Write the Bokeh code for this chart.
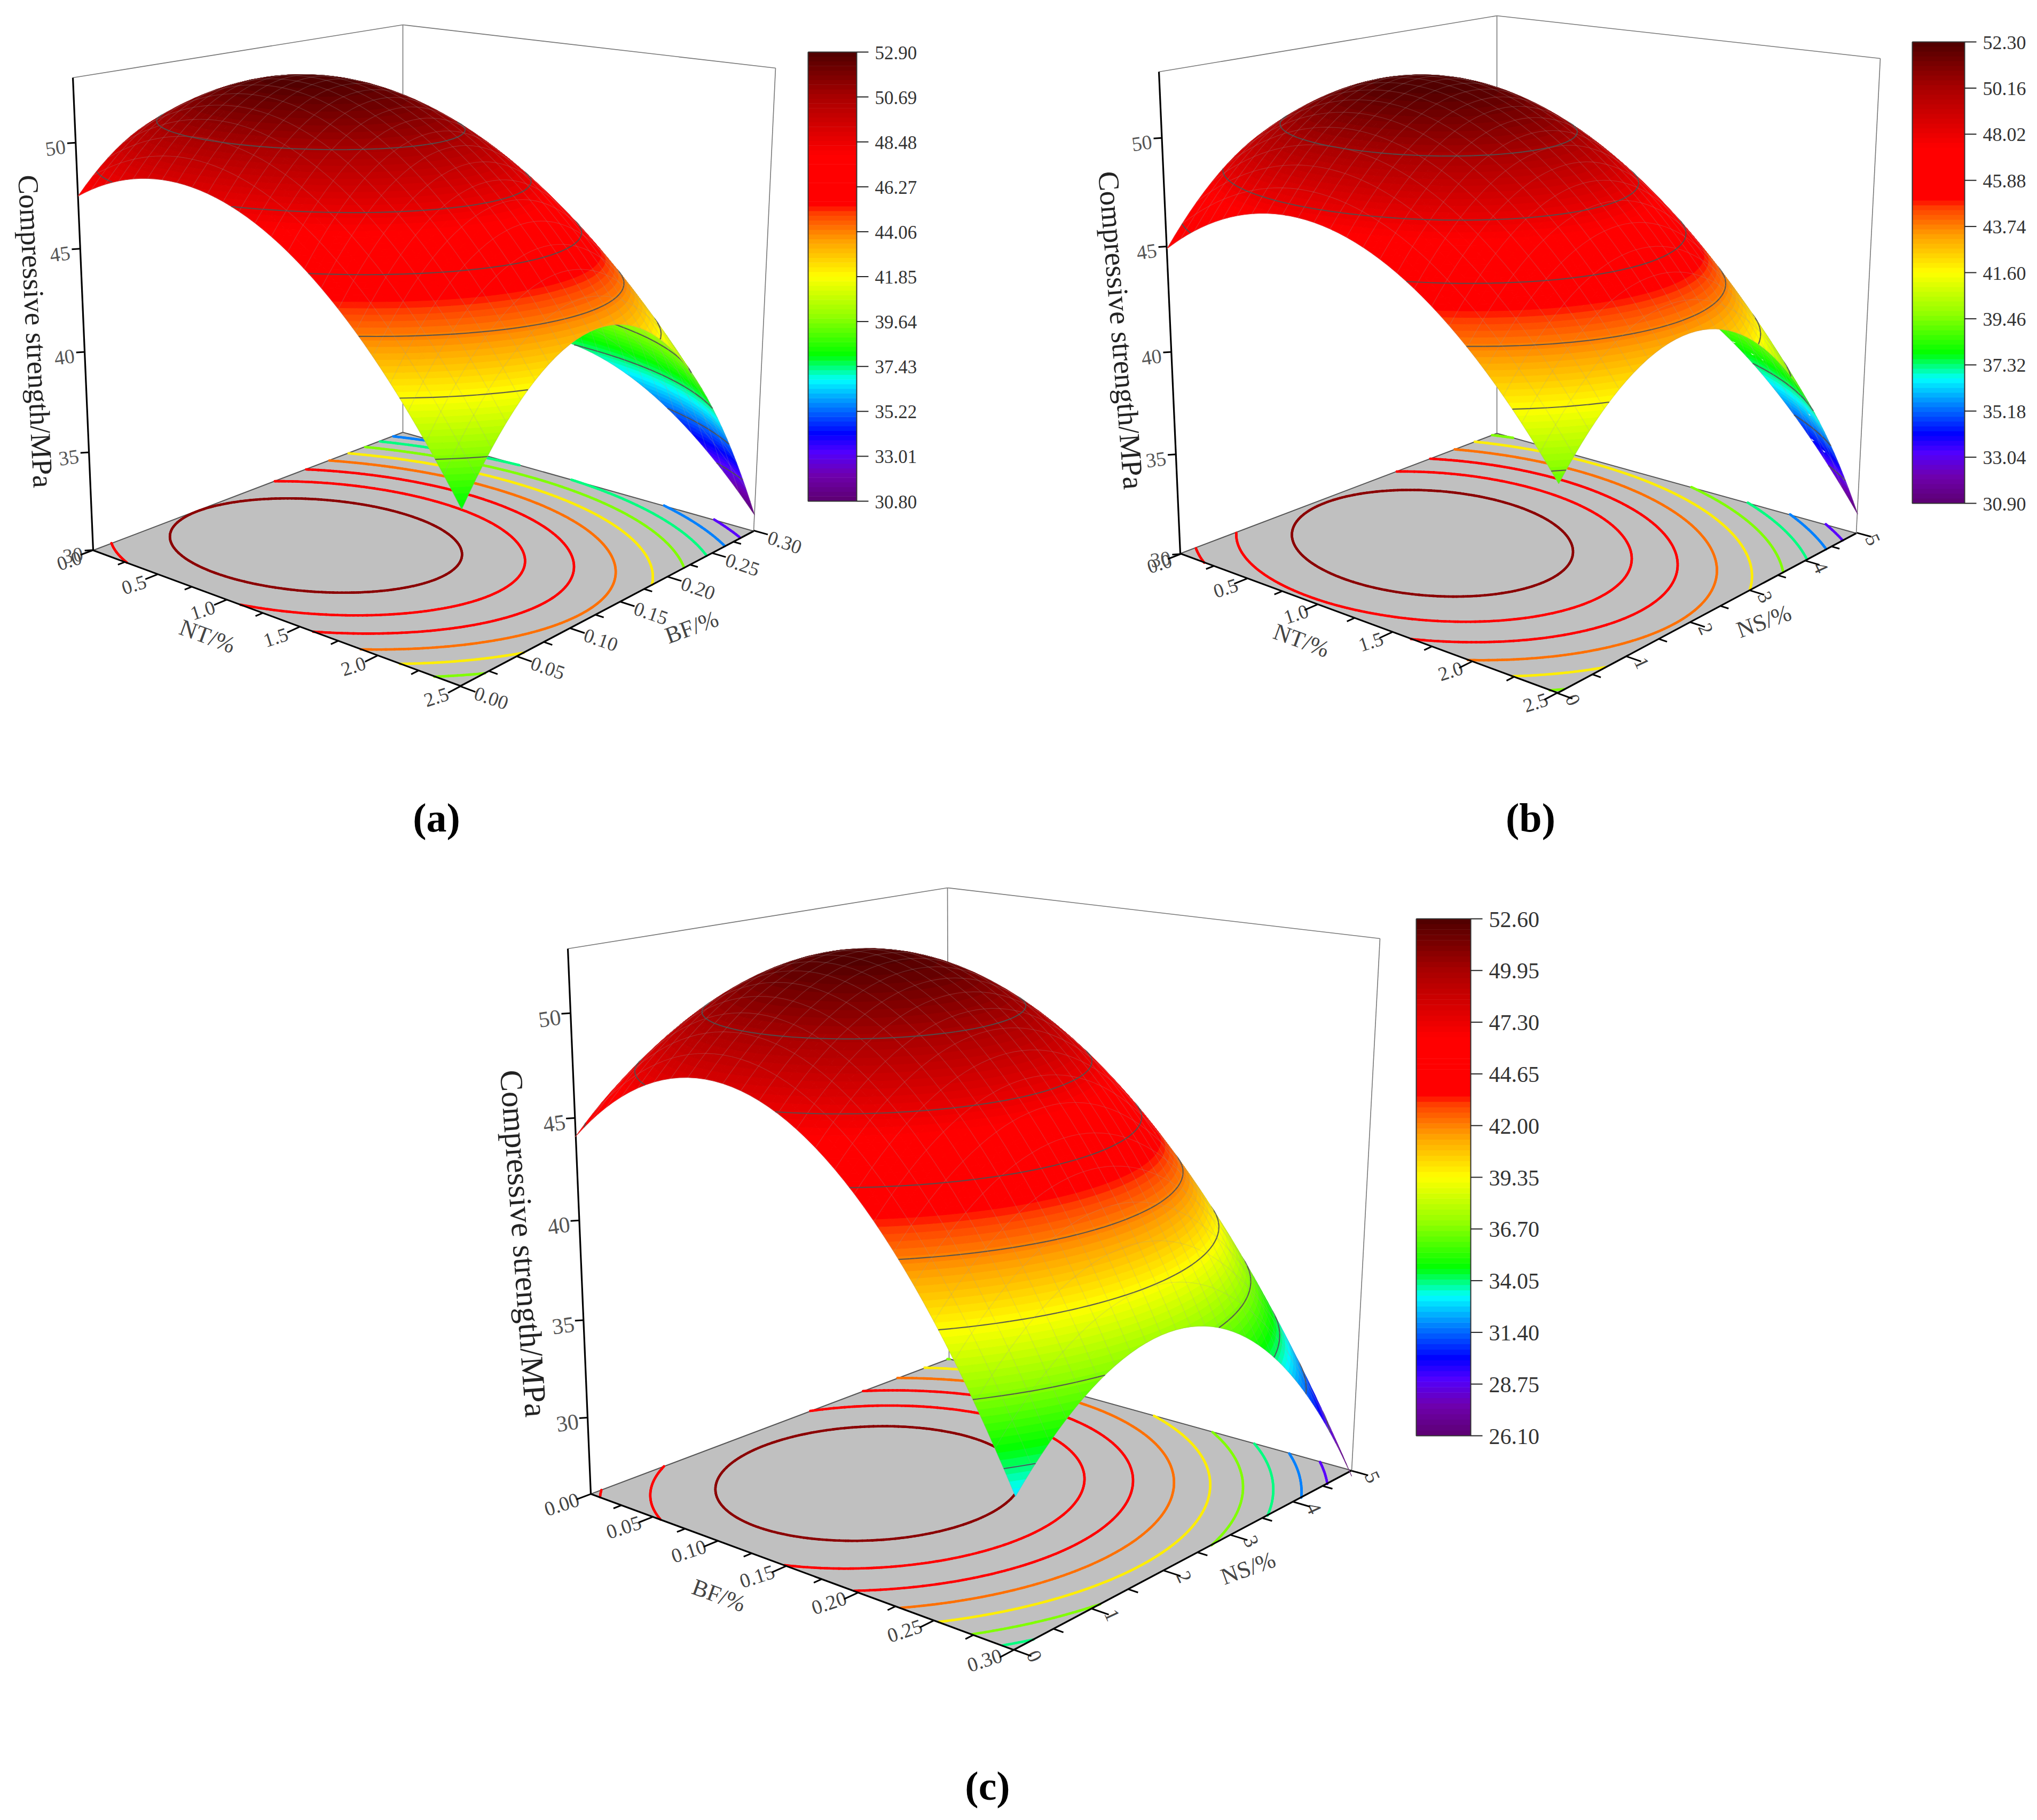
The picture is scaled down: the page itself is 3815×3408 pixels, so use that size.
import numpy as np
from bokeh.plotting import figure
from bokeh.models import Range1d, ColumnDataSource
from bokeh.core.properties import value
from bokeh.embed import file_html
from bokeh.resources import INLINE

# ---------- values ----------
# compressive strength on a 5x5 lattice of the floor (row: first factor, column: second factor)
z_table_a = [[47.50, 50.56, 49.25, 43.56, 33.50],
             [49.06, 52.56, 51.68, 46.43, 36.81],
             [47.97, 51.90, 51.47, 46.66, 37.47],
             [44.22, 48.59, 48.60, 44.22, 35.47],
             [37.83, 42.64, 43.08, 39.14, 30.83]]
z_table_b = [[44.90, 49.20, 49.62, 46.17, 38.84],
             [47.37, 51.55, 51.84, 48.27, 40.81],
             [47.21, 51.26, 51.43, 47.73, 40.15],
             [44.43, 48.36, 48.40, 44.58, 36.87],
             [39.02, 42.82, 42.74, 38.79, 30.96]]
z_table_c = [[44.04, 47.99, 48.07, 44.27, 36.60],
             [47.84, 51.79, 51.87, 48.07, 40.40],
             [47.26, 51.21, 51.29, 47.49, 39.82],
             [42.31, 46.26, 46.34, 42.54, 34.87],
             [32.98, 36.93, 37.01, 33.21, 25.90]]

cbar_a = ["30.80", "33.01", "35.22", "37.43", "39.64", "41.85", "44.06", "46.27", "48.48", "50.69", "52.90"]
cbar_b = ["30.90", "33.04", "35.18", "37.32", "39.46", "41.60", "43.74", "45.88", "48.02", "50.16", "52.30"]
cbar_c = ["26.10", "28.75", "31.40", "34.05", "36.70", "39.35", "42.00", "44.65", "47.30", "49.95", "52.60"]

nt_ticks = ["0.0", "0.5", "1.0", "1.5", "2.0", "2.5"]
bf_ticks = ["0.00", "0.05", "0.10", "0.15", "0.20", "0.25", "0.30"]
ns_ticks = ["0", "1", "2", "3", "4", "5"]
z_ticks = [30, 35, 40, 45, 50]
contour_colors = ["#5a00ff", "#0080ff", "#00ff80", "#80ff00", "#ffee00", "#ff7000", "#ff0000", "#ff0000", "#8b0000"]

# colour scale of the legend bars: position along the bar, colour
cmap_pos = [0.0, 0.06, 0.11, 0.15, 0.22, 0.27, 0.29, 0.325, 0.41, 0.50, 0.58, 0.64, 0.66, 0.77, 0.90, 1.0]
cmap_col = ["#5c0070", "#6f00b0", "#5000ff", "#0000ff", "#0090ff", "#00ffff", "#00ffa0", "#00ff00", "#90ff00",
            "#ffff00", "#ffa000", "#ff4000", "#ff0000", "#ff0000", "#a80000", "#4d0000"]
N_BANDS = 96
SERIF = "Liberation Serif"

# frame calibration of each panel (page pixels) and its texts
panels = [
    dict(table=z_table_a, zr=(30, 53), cbar=cbar_a, ut=nt_ticks, vt=bf_ticks, ul="NT/%", vl="BF/%",
         L=(174, 1030), F=(862, 1284), R=(1411, 994), B=(754, 809), LT=(136, 145), BT=(754, 46), RT=(1452, 127),
         bar=(1513, 1604, 97, 938), bar_fs=35, uo=(-45, 20), vo=(58, 22), vang=-19, uang=18, tick_fs=37,
         ulp=(388, 1191), vlp=(1295, 1174), title=(66, 620, -87.2, 54), lab="(a)", labp=(817, 1530), zfs=38),
    dict(table=z_table_b, zr=(30, 53), cbar=cbar_b, ut=nt_ticks, vt=ns_ticks, ul="NT/%", vl="NS/%",
         L=(2210, 1036), F=(2917, 1297), R=(3476, 998), B=(2803, 811), LT=(2170, 134), BT=(2803, 29), RT=(3521, 109),
         bar=(3581, 3679, 78, 942), bar_fs=36, uo=(-40, 18), vo=(30, 13), vang=-65, uang=18, tick_fs=37,
         ulp=(2437, 1199), vlp=(3303, 1163), title=(2099, 618, -85.4, 55), lab="(b)", labp=(2866, 1530), zfs=38),
    dict(table=z_table_c, zr=(26, 53), cbar=cbar_c, ut=bf_ticks, vt=ns_ticks, ul="BF/%", vl="NS/%",
         L=(1106, 2797), F=(1898, 3089), R=(2531, 2753), B=(1777, 2544), LT=(1063, 1776), BT=(1774, 1662), RT=(2584, 1757),
         bar=(2652, 2754, 1720, 2688), bar_fs=42, uo=(-55, 20), vo=(38, 12), vang=-65, uang=18, tick_fs=38,
         ulp=(1346, 2987), vlp=(2337, 2936), title=(980, 2328, -85.8, 60), lab="(c)", labp=(1849, 3343), zfs=42),
]


def hex2rgb(h):
    return np.array([int(h[i:i + 2], 16) for i in (1, 3, 5)], float)


def band_palette():
    out = []
    rgb = np.array([hex2rgb(c) for c in cmap_col])
    for i in range(N_BANDS):
        t = (i + 0.5) / N_BANDS
        c = [np.interp(t, cmap_pos, rgb[:, k]) for k in range(3)]
        out.append("#%02x%02x%02x" % tuple(int(round(x)) for x in c))
    return out


PALETTE = band_palette()


def fit_projection(pan):
    pts = [((0, 0, 0), pan["L"]), ((1, 0, 0), pan["F"]), ((1, 1, 0), pan["R"]), ((0, 1, 0), pan["B"]),
           ((0, 0, 1), pan["LT"]), ((0, 1, 1), pan["BT"]), ((1, 1, 1), pan["RT"])]
    A = []
    for (X, Y, Z), (x, y) in pts:
        A.append([X, Y, Z, 1, 0, 0, 0, 0, -x * X, -x * Y, -x * Z, -x])
        A.append([0, 0, 0, 0, X, Y, Z, 1, -y * X, -y * Y, -y * Z, -y])
    _, _, vt = np.linalg.svd(np.array(A, float))
    P = vt[-1].reshape(3, 4)
    _, _, v2 = np.linalg.svd(P)
    C = v2[-1]
    C = C[:3] / C[3]
    return P, C


def smooth_surface(table):
    t = np.asarray(table, float)
    n = t.shape[0]
    gu, gv = np.meshgrid(np.linspace(0, 1, n), np.linspace(0, 1, t.shape[1]), indexing="ij")

    def basis(u, v):
        return np.stack([np.ones_like(u), u, v, u * u, v * v, u * v], -1)
    coef, *_ = np.linalg.lstsq(basis(gu, gv).reshape(-1, 6), t.ravel(), rcond=None)
    return lambda u, v: basis(u, v) @ coef


def clip(poly, level, keep_above):
    out = []
    n = len(poly)
    for i in range(n):
        a, b = poly[i], poly[(i + 1) % n]
        ina = a[2] >= level if keep_above else a[2] <= level
        inb = b[2] >= level if keep_above else b[2] <= level
        if ina:
            out.append(a)
        if ina != inb:
            s = (level - a[2]) / (b[2] - a[2])
            out.append((a[0] + s * (b[0] - a[0]), a[1] + s * (b[1] - a[1]), level))
    return out


def level_segments(U, V, Z, level):
    """cells of a lattice crossed by a level: (cell i, cell j, point, point) in (u, v)."""
    zmin = np.minimum.reduce([Z[:-1, :-1], Z[1:, :-1], Z[:-1, 1:], Z[1:, 1:]])
    zmax = np.maximum.reduce([Z[:-1, :-1], Z[1:, :-1], Z[:-1, 1:], Z[1:, 1:]])
    res = []
    for i, j in zip(*np.nonzero((zmin < level) & (zmax >= level))):
        c = [(i, j), (i + 1, j), (i + 1, j + 1), (i, j + 1)]
        pts = []
        for k in range(4):
            a, b = c[k], c[(k + 1) % 4]
            za, zb = Z[a], Z[b]
            if (za < level) != (zb < level):
                s = (level - za) / (zb - za)
                pts.append((U[a] + s * (U[b] - U[a]), V[a] + s * (V[b] - V[a])))
        if len(pts) >= 2:
            res.append((i, j, pts[0], pts[1]))
    return res


p = figure(width=3799, height=3392, x_range=Range1d(0, 3799), y_range=Range1d(3392, 0),
           output_backend="svg", toolbar_location=None, x_axis_location=None, y_axis_location=None,
           background_fill_color="white", border_fill_color="white", min_border=0, outline_line_color=None)
p.grid.visible = False


def add_text(x, y, text, size, angle=0.0, color="#444444", style="normal", align="center"):
    p.text(x=[x], y=[y], text=[text], text_font=value(SERIF), text_font_size=f"{size}px", angle=[np.deg2rad(angle)],
           text_color=color, text_font_style=style, text_align=align, text_baseline="middle")


for pan in panels:
    P, C = fit_projection(pan)
    z0, z1 = pan["zr"]

    def proj(u, v, w):
        q = P @ np.array([u, v, w, 1.0])
        return q[0] / q[2], q[1] / q[2]

    def proj_z(u, v, z):
        return proj(u, v, (z - z0) / (z1 - z0))

    def dist(u, v, z):
        return float(np.linalg.norm(np.array([u, v, (z - z0) / (z1 - z0)]) - C))

    # frame behind the surface
    thin_x, thin_y = [], []
    for a, b in [("L", "B"), ("B", "R"), ("B", "BT"), ("LT", "BT"), ("BT", "RT"), ("R", "RT")]:
        thin_x.append([pan[a][0], pan[b][0]])
        thin_y.append([pan[a][1], pan[b][1]])

    # floor
    p.patch([pan[k][0] for k in "LFRB"], [pan[k][1] for k in "LFRB"], fill_color="#c0c0c0", line_color=None)
    p.multi_line(thin_x[2:], thin_y[2:], line_color="#777777", line_width=1.6)
    p.multi_line(thin_x[:2], thin_y[:2], line_color="#555555", line_width=2)

    surf = smooth_surface(pan["table"])
    levels = [float(t) for t in pan["cbar"][1:-1]]
    lo, hi = float(pan["cbar"][0]), float(pan["cbar"][-1])

    # contour map on the floor
    fu, fv = np.meshgrid(np.linspace(0, 1, 161), np.linspace(0, 1, 161), indexing="ij")
    fz = surf(fu, fv)
    sx0, sy0, sx1, sy1, scol = [], [], [], [], []
    for lev, col in zip(levels, contour_colors):
        for _, _, a, b in level_segments(fu, fv, fz, lev):
            xa, ya = proj(a[0], a[1], 0)
            xb, yb = proj(b[0], b[1], 0)
            sx0.append(xa); sy0.append(ya); sx1.append(xb); sy1.append(yb); scol.append(col)
    p.segment(sx0, sy0, sx1, sy1, line_color=scol, line_width=4.6, line_cap="round")

    # axes
    axx, axy = [], []
    for a, b in [("L", "F"), ("F", "R"), ("L", "LT")]:
        axx.append([pan[a][0], pan[b][0]])
        axy.append([pan[a][1], pan[b][1]])
    p.multi_line(axx, axy, line_color="black", line_width=3.2)

    tx, ty = [], []
    nu = len(pan["ut"]) - 1
    for k in range(2 * nu + 1):
        t = k / (2 * nu)
        ln = 0.035 if k % 2 == 0 else 0.02
        a, b = proj(t, 0, 0), proj(t, -ln, 0)
        tx.append([a[0], b[0]]); ty.append([a[1], b[1]])
        if k % 2 == 0:
            add_text(a[0] + pan["uo"][0], a[1] + pan["uo"][1], pan["ut"][k // 2], pan["tick_fs"], pan["uang"])
    nv = len(pan["vt"]) - 1
    for k in range(2 * nv + 1):
        t = k / (2 * nv)
        ln = 0.035 if k % 2 == 0 else 0.02
        a, b = proj(1, t, 0), proj(1 + ln, t, 0)
        tx.append([a[0], b[0]]); ty.append([a[1], b[1]])
        if k % 2 == 0:
            add_text(a[0] + pan["vo"][0], a[1] + pan["vo"][1], pan["vt"][k // 2], pan["tick_fs"], pan["vang"])
    for zt in z_ticks:
        a = proj_z(0, 0, zt)
        tx.append([a[0], a[0] - 16]); ty.append([a[1], a[1] + 1])
        add_text(a[0] - 38, a[1] + 10, str(zt), pan["zfs"], 8, color="#555555")
    p.multi_line(tx, ty, line_color="black", line_width=3)

    add_text(pan["ulp"][0], pan["ulp"][1], pan["ul"], 44, -20)
    add_text(pan["vlp"][0], pan["vlp"][1], pan["vl"], 44, 20)
    tt = pan["title"]
    add_text(tt[0], tt[1], "Compressive strength/MPa", tt[3], tt[2], color="#222222")
    add_text(pan["labp"][0], pan["labp"][1], pan["lab"], 76, 0, color="black", style="bold")

    # the surface, far cells first
    n = 48
    U, V = np.meshgrid(np.linspace(0, 1, n + 1), np.linspace(0, 1, n + 1), indexing="ij")
    Z = surf(U, V)
    XY = np.zeros(U.shape + (2,))
    for i in range(n + 1):
        for j in range(n + 1):
            XY[i, j] = proj_z(U[i, j], V[i, j], Z[i, j])

    items = []
    step = (hi - lo) / N_BANDS
    for i in range(n):
        for j in range(n):
            quad = [(U[a, b], V[a, b], Z[a, b]) for a, b in [(i, j), (i + 1, j), (i + 1, j + 1), (i, j + 1)]]
            zs = [q[2] for q in quad]
            key = dist(np.mean([q[0] for q in quad]), np.mean([q[1] for q in quad]), np.mean(zs))
            b0 = int(np.clip(np.floor((min(zs) - lo) / step), 0, N_BANDS - 1))
            b1 = int(np.clip(np.floor((max(zs) - lo) / step), 0, N_BANDS - 1))
            for bd in range(b0, b1 + 1):
                poly = quad
                if bd > b0:
                    poly = clip(poly, lo + bd * step, True)
                if bd < b1 and poly:
                    poly = clip(poly, lo + (bd + 1) * step, False)
                if len(poly) < 3:
                    continue
                pts = [proj_z(*q) for q in poly]
                items.append((key, [q[0] for q in pts], [q[1] for q in pts], PALETTE[bd], PALETTE[bd], 1.0, 1.0, 1.0))

    # faint mesh
    every = 2
    for i in range(0, n + 1, every):
        for j in range(n):
            key = dist(U[i, j], (V[i, j] + V[i, j + 1]) / 2, (Z[i, j] + Z[i, j + 1]) / 2) - 0.035
            items.append((key, [XY[i, j, 0], XY[i, j + 1, 0]], [XY[i, j, 1], XY[i, j + 1, 1]],
                          "#808080", "#a0a0a0", 1.4, 0.0, 0.24))
    for j in range(0, n + 1, every):
        for i in range(n):
            key = dist((U[i, j] + U[i + 1, j]) / 2, V[i, j], (Z[i, j] + Z[i + 1, j]) / 2) - 0.035
            items.append((key, [XY[i, j, 0], XY[i + 1, j, 0]], [XY[i, j, 1], XY[i + 1, j, 1]],
                          "#808080", "#a0a0a0", 1.4, 0.0, 0.24))

    # contour lines on the surface
    for lev in levels:
        for i, j, a, b in level_segments(U, V, Z, lev):
            pa, pb = proj_z(a[0], a[1], lev), proj_z(b[0], b[1], lev)
            key = dist((a[0] + b[0]) / 2, (a[1] + b[1]) / 2, lev) - 0.04
            items.append((key, [pa[0], pb[0]], [pa[1], pb[1]], "#555555", "#505050", 2.2, 0.0, 0.9))

    items.sort(key=lambda it: -it[0])
    src = ColumnDataSource(dict(xs=[it[1] for it in items], ys=[it[2] for it in items], fc=[it[3] for it in items],
                                lc=[it[4] for it in items], lw=[it[5] for it in items], fa=[it[6] for it in items],
                                la=[it[7] for it in items]))
    p.patches("xs", "ys", source=src, fill_color="fc", line_color="lc", line_width="lw", fill_alpha="fa", line_alpha="la")

    # legend bar
    x0, x1, ytop, ybot = pan["bar"]
    h = (ybot - ytop) / N_BANDS
    bottoms = [ybot - i * h for i in range(N_BANDS)]
    tops = [ybot - (i + 1) * h - 0.5 for i in range(N_BANDS)]
    p.quad(left=x0, right=x1, top=tops, bottom=bottoms, fill_color=PALETTE, line_color=None)
    p.multi_line([[x0, x0, x1, x1, x0]], [[ytop, ybot, ybot, ytop, ytop]], line_color="#333333", line_width=2)
    ticks_x, ticks_y = [], []
    for k, lab in enumerate(pan["cbar"]):
        y = ybot - (ybot - ytop) * k / 10
        ticks_x.append([x1, x1 + 22]); ticks_y.append([y, y])
        add_text(x1 + 34, y + 1, lab, pan["bar_fs"], 0, color="#333333", align="left")
    p.multi_line(ticks_x, ticks_y, line_color="#222222", line_width=2)

open("out.html", "w").write(file_html(p, INLINE))
